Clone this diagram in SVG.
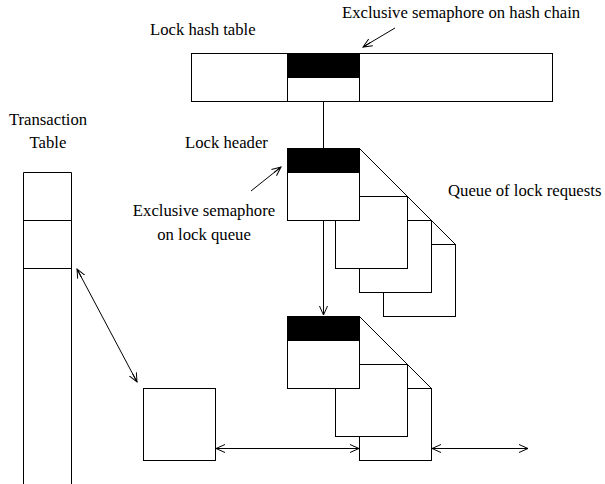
<svg xmlns="http://www.w3.org/2000/svg" width="605" height="484" viewBox="0 0 605 484">
<defs>
<style>
.b{fill:#fff;stroke:#000;stroke-width:1}
.k{fill:#000;stroke:#000;stroke-width:1}
.l{fill:none;stroke:#000;stroke-width:1}
text{font-family:"Liberation Serif","Times New Roman",serif;font-size:16.7px;fill:#000}
</style>
<marker id="a" markerWidth="10" markerHeight="10" refX="9" refY="4" orient="auto-start-reverse" markerUnits="userSpaceOnUse" viewBox="0 0 10 8">
<path d="M0,0 L9,4 L0,8 M9,4 L0,4" fill="none" stroke="#000" stroke-width="1"/>
</marker>
</defs>
<rect width="605" height="484" fill="#fff"/>
<g id="hash-table">
<rect class="b" x="191.5" y="53.5" width="361" height="48"/>
<rect class="k" x="287.5" y="53.5" width="72" height="24"/>
<rect class="b" x="287.5" y="77.5" width="72" height="24"/>
<text x="150" y="35">Lock hash table</text>
</g>
<g id="hash-chain-label">
<text x="342" y="18">Exclusive semaphore on hash chain</text>
</g>
<g id="queue1">
<rect class="b" x="383.5" y="244.5" width="72" height="72"/>
<rect class="b" x="359.5" y="220.5" width="72" height="72"/>
<rect class="b" x="335.5" y="196.5" width="72" height="72"/>
<line class="l" x1="359.5" y1="148.5" x2="455.5" y2="244.5"/>
</g>
<g id="lock-header1">
<rect class="k" x="287.5" y="148.5" width="72" height="24"/>
<rect class="b" x="287.5" y="172.5" width="72" height="48"/>
<text x="185" y="148">Lock header</text>
</g>
<g id="queue2">
<rect class="b" x="359.5" y="388.5" width="72" height="72"/>
<rect class="b" x="335.5" y="364.5" width="72" height="72"/>
<line class="l" x1="359.5" y1="316.5" x2="431.5" y2="388.5"/>
</g>
<g id="lock-header2">
<rect class="k" x="287.5" y="316.5" width="72" height="24"/>
<rect class="b" x="287.5" y="340.5" width="72" height="48"/>
</g>
<g id="transaction-table">
<path class="l" d="M23.5,484 V172.5 H71.5 V484 M23.5,220.5 H71.5 M23.5,268.5 H71.5"/>
<text x="48" y="125" text-anchor="middle">Transaction</text>
<text x="48" y="148" text-anchor="middle">Table</text>
</g>
<g id="lock-request">
<rect class="b" x="143.5" y="388.5" width="72" height="72"/>
</g>
<g id="labels">
<text x="204" y="216" text-anchor="middle">Exclusive semaphore</text>
<text x="204" y="240" text-anchor="middle">on lock queue</text>
<text x="448" y="196">Queue of lock requests</text>
</g>
<g id="connectors">
<line class="l" x1="323.5" y1="101.5" x2="323.5" y2="148.5"/>
<line class="l" x1="323.5" y1="220.5" x2="323.5" y2="315" marker-end="url(#a)"/>
<line class="l" x1="395" y1="28" x2="363" y2="47" marker-end="url(#a)"/>
<line class="l" x1="251" y1="191" x2="281" y2="167" marker-end="url(#a)"/>
<line class="l" x1="77" y1="269" x2="137" y2="382" marker-start="url(#a)" marker-end="url(#a)"/>
<line class="l" x1="216" y1="448.5" x2="359" y2="448.5" marker-start="url(#a)" marker-end="url(#a)"/>
<line class="l" x1="432" y1="448.5" x2="528" y2="448.5" marker-start="url(#a)" marker-end="url(#a)"/>
</g>
</svg>
